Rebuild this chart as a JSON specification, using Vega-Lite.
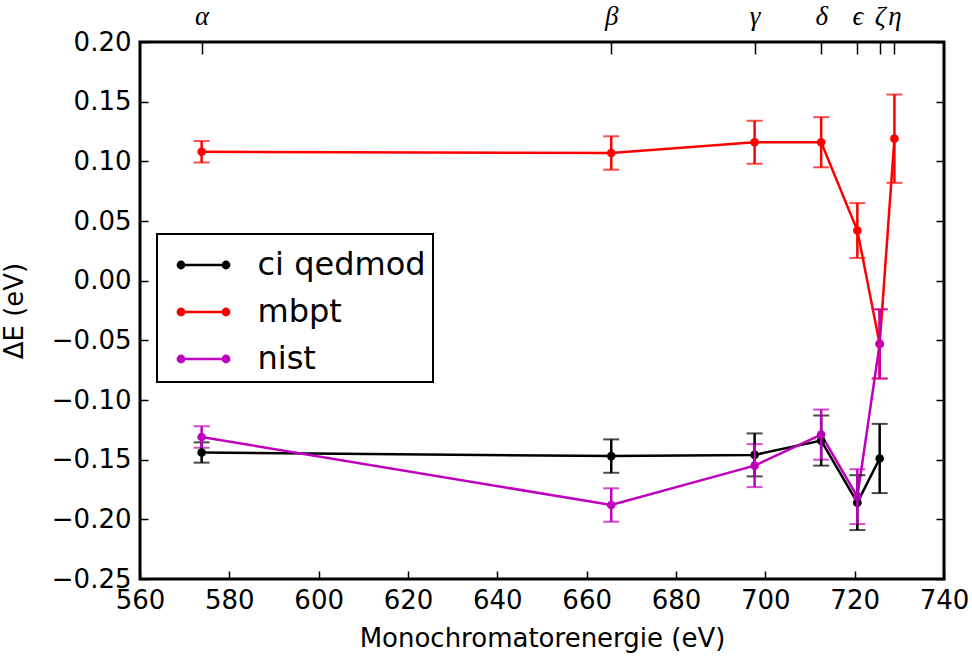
{
  "$schema": "https://vega.github.io/schema/vega-lite/v6.json",
  "width": 804,
  "height": 537,
  "autosize": {"type": "none"},
  "padding": {"left": 140, "top": 42, "right": 28, "bottom": 77},
  "background": "white",
  "config": {
    "font": "DejaVu Sans",
    "view": {"stroke": "black", "strokeWidth": 3},
    "axis": {
      "domain": false,
      "grid": false,
      "tickColor": "black",
      "tickWidth": 1.5,
      "tickSize": -8,
      "labelColor": "black",
      "labelFontSize": 26,
      "titleColor": "black",
      "titleFontSize": 26,
      "titleFontWeight": "normal",
      "labelFlush": false,
      "labelOverlap": false
    },
    "legend": {"strokeWidth": 2}
  },
  "datasets": {
    "series": [
      {"series": "ci qedmod", "x": 573.8, "y": -0.144, "err": 0.0085},
      {"series": "ci qedmod", "x": 665.5, "y": -0.147, "err": 0.014},
      {"series": "ci qedmod", "x": 697.6, "y": -0.146, "err": 0.018},
      {"series": "ci qedmod", "x": 712.5, "y": -0.134, "err": 0.021},
      {"series": "ci qedmod", "x": 720.6, "y": -0.186, "err": 0.023},
      {"series": "ci qedmod", "x": 725.6, "y": -0.149, "err": 0.029},
      {"series": "mbpt", "x": 573.8, "y": 0.108, "err": 0.009},
      {"series": "mbpt", "x": 665.5, "y": 0.107, "err": 0.014},
      {"series": "mbpt", "x": 697.6, "y": 0.116, "err": 0.018},
      {"series": "mbpt", "x": 712.5, "y": 0.116, "err": 0.021},
      {"series": "mbpt", "x": 720.6, "y": 0.042, "err": 0.023},
      {"series": "mbpt", "x": 725.6, "y": -0.053, "err": 0.029},
      {"series": "mbpt", "x": 728.9, "y": 0.119, "err": 0.037},
      {"series": "nist", "x": 573.8, "y": -0.131, "err": 0.009},
      {"series": "nist", "x": 665.5, "y": -0.188, "err": 0.014},
      {"series": "nist", "x": 697.6, "y": -0.155, "err": 0.018},
      {"series": "nist", "x": 712.5, "y": -0.129, "err": 0.021},
      {"series": "nist", "x": 720.6, "y": -0.181, "err": 0.023},
      {"series": "nist", "x": 725.6, "y": -0.053, "err": 0.029}
    ],
    "lines": [
      {"name": "alpha", "x": 573.8},
      {"name": "beta", "x": 665.5},
      {"name": "gamma", "x": 697.6},
      {"name": "delta", "x": 712.5},
      {"name": "epsilon", "x": 720.6},
      {"name": "zeta", "x": 725.6},
      {"name": "eta", "x": 728.9}
    ]
  },
  "resolve": {"axis": {"x": "independent", "y": "independent"}},
  "layer": [
    {
      "data": {"name": "series"},
      "mark": {"type": "line", "strokeWidth": 2.5, "point": {"filled": true, "size": 75, "opacity": 1}},
      "encoding": {
        "x": {
          "field": "x", "type": "quantitative",
          "scale": {"domain": [560, 740], "nice": false, "zero": false},
          "title": "Monochromatorenergie (eV)",
          "axis": {"orient": "bottom", "values": [560, 580, 600, 620, 640, 660, 680, 700, 720, 740], "format": "d", "labelPadding": 16, "titlePadding": 12}
        },
        "y": {
          "field": "y", "type": "quantitative",
          "scale": {"domain": [-0.25, 0.2], "nice": false, "zero": false},
          "title": "ΔE (eV)",
          "axis": {"orient": "left", "values": [-0.25, -0.2, -0.15, -0.1, -0.05, 0, 0.05, 0.1, 0.15, 0.2], "format": ".2f", "labelPadding": 17, "titlePadding": 24}
        },
        "color": {
          "field": "series", "type": "nominal",
          "scale": {"domain": ["ci qedmod", "mbpt", "nist"], "range": ["#000000", "#ff0000", "#bf00bf"]},
          "legend": {
            "title": null,
            "orient": "none",
            "legendX": 17,
            "legendY": 192,
            "padding": 7,
            "strokeColor": "black",
            "fillColor": "white",
            "labelFontSize": 32,
            "labelColor": "black",
            "labelLimit": 400,
            "symbolSize": 2025,
            "symbolStrokeWidth": 2.5,
            "symbolOffset": 15.5,
            "labelOffset": 30,
            "rowPadding": 7,
            "symbolType": "M-1,0L1,0M-1.14,0A0.14,0.14 0 1 0 -0.86,0A0.14,0.14 0 1 0 -1.14,0M-1.06,0A0.06,0.06 0 1 0 -0.94,0A0.06,0.06 0 1 0 -1.06,0M0.86,0A0.14,0.14 0 1 0 1.14,0A0.14,0.14 0 1 0 0.86,0M0.94,0A0.06,0.06 0 1 0 1.06,0A0.06,0.06 0 1 0 0.94,0"
          }
        }
      }
    },
    {
      "data": {"name": "series"},
      "mark": {"type": "errorbar", "ticks": {"size": 16, "thickness": 2}, "thickness": 2.5},
      "encoding": {
        "x": {"field": "x", "type": "quantitative", "scale": {"domain": [560, 740], "nice": false, "zero": false}, "axis": null},
        "y": {"field": "y", "type": "quantitative", "scale": {"domain": [-0.25, 0.2], "nice": false, "zero": false}, "axis": null},
        "yError": {"field": "err"},
        "color": {"field": "series", "type": "nominal", "scale": {"domain": ["ci qedmod", "mbpt", "nist"], "range": ["#000000", "#ff0000", "#bf00bf"]}}
      }
    },
    {
      "data": {"name": "lines"},
      "mark": {"type": "point", "opacity": 0},
      "encoding": {
        "x": {
          "field": "x", "type": "quantitative",
          "scale": {"domain": [560, 740], "nice": false, "zero": false},
          "axis": {
            "orient": "top", "title": null,
            "values": [573.8, 665.5, 697.6, 712.5, 720.6, 725.6, 728.9],
            "tickSize": -12,
            "labelPadding": 24,
            "labelFont": "Liberation Serif",
            "labelFontStyle": "italic",
            "labelFontSize": 27,
            "labelExpr": "datum.value < 600 ? 'α' : datum.value < 680 ? 'β' : datum.value < 705 ? 'γ' : datum.value < 716 ? 'δ' : datum.value < 723 ? 'ϵ' : datum.value < 727 ? 'ζ' : 'η'"
          }
        },
        "y": {"datum": 0, "type": "quantitative", "scale": {"domain": [-0.25, 0.2], "nice": false, "zero": false}, "axis": null}
      }
    },
    {
      "data": {"name": "series"},
      "mark": {"type": "point", "opacity": 0},
      "encoding": {
        "x": {"field": "x", "type": "quantitative", "scale": {"domain": [560, 740], "nice": false, "zero": false}, "axis": null},
        "y": {
          "field": "y", "type": "quantitative",
          "scale": {"domain": [-0.25, 0.2], "nice": false, "zero": false},
          "axis": {"orient": "right", "title": null, "labels": false, "values": [-0.25, -0.2, -0.15, -0.1, -0.05, 0, 0.05, 0.1, 0.15, 0.2]}
        }
      }
    }
  ]
}
